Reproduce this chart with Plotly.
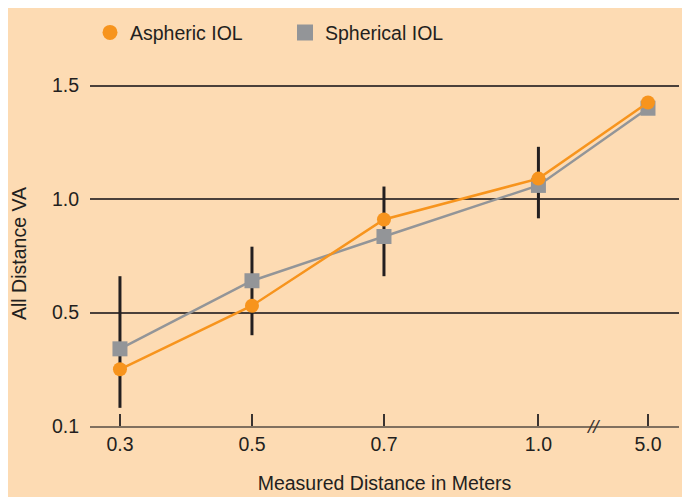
import plotly.graph_objects as go

# Data
distance_labels = ["0.3", "0.5", "0.7", "1.0", "5.0"]
distance_slots = [0, 1, 2, 3.17, 4]          # axis slot for each distance (axis broken before 5.0)
aspheric_va = [0.25, 0.53, 0.91, 1.09, 1.425]
spherical_va = [0.34, 0.64, 0.835, 1.06, 1.40]
err_low = [0.08, 0.40, 0.66, 0.915, None]
err_high = [0.66, 0.79, 1.055, 1.23, None]
y_tickvals = [0, 0.5, 1.0, 1.5]
y_ticktext = ["0.1", "0.5", "1.0", "1.5"]

ORANGE = "#F7941D"
GREY = "#939598"
PEACH = "#FDDBB3"
FONT = "Liberation Sans, Arial, sans-serif"
TXT = "#231F20"
FS = 19.5

fig = go.Figure()

# error bars (range lines)
ex, ey = [], []
for s, lo, hi in zip(distance_slots, err_low, err_high):
    if lo is None:
        continue
    ex += [s, s, None]
    ey += [lo, hi, None]
fig.add_trace(go.Scatter(x=ex, y=ey, mode="lines", line=dict(color=TXT, width=3),
                         showlegend=False, hoverinfo="skip"))

fig.add_trace(go.Scatter(x=distance_slots, y=spherical_va, mode="lines+markers",
                         name="Spherical IOL", showlegend=False,
                         line=dict(color=GREY, width=2.5),
                         marker=dict(symbol="square", size=15, color=GREY)))
fig.add_trace(go.Scatter(x=distance_slots, y=aspheric_va, mode="lines+markers",
                         name="Aspheric IOL", showlegend=False,
                         line=dict(color=ORANGE, width=2.5),
                         marker=dict(symbol="circle", size=14, color=ORANGE)))

# legend entries (markers only)
fig.add_trace(go.Scatter(x=[None], y=[None], mode="markers", name="Aspheric IOL",
                         marker=dict(symbol="circle", size=15, color=ORANGE)))
fig.add_trace(go.Scatter(x=[None], y=[None], mode="markers", name="Spherical IOL",
                         marker=dict(symbol="square", size=16, color=GREY)))

# axis break mark
fig.add_annotation(x=(distance_slots[3] + distance_slots[4]) / 2, y=0, xref="x", yref="y",
                   text="<i>//</i>", showarrow=False, font=dict(size=19, color="#3a3330", family=FONT),
                   xanchor="center", yanchor="middle")

# background panel
fig.add_shape(type="rect", xref="paper", yref="paper", x0=-0.2, x1=1.05, y0=-0.3, y1=1.3,
              fillcolor=PEACH, line=dict(width=0), layer="below")

YTOP = 1.52
fig.update_layout(
    width=682, height=489,
    margin=dict(l=82, r=11, t=73, b=71, autoexpand=False),
    paper_bgcolor="white",
    plot_bgcolor="rgba(0,0,0,0)",
    font=dict(family=FONT, size=FS, color=TXT),
    showlegend=True,
    legend=dict(orientation="h", x=0.0, y=1.14, xanchor="left", yanchor="middle",
                bgcolor="rgba(0,0,0,0)", itemwidth=30,
                font=dict(size=FS, color=TXT), entrywidth=150),
    xaxis=dict(range=[-0.227, 4.235], tickvals=distance_slots, ticktext=distance_labels,
               showgrid=False, zeroline=False, showline=True, linecolor="#80705f", linewidth=2,
               ticks="inside", ticklen=12, tickwidth=1.5, tickcolor="#3a3330",
               title=dict(text="Measured Distance in Meters", standoff=22,
                          font=dict(size=FS, color=TXT)),
               tickfont=dict(size=FS, color=TXT)),
    yaxis=dict(range=[0, YTOP], tickvals=y_tickvals, ticktext=y_ticktext,
               showgrid=True, gridcolor="#4a403a", gridwidth=1.5, zeroline=False,
               showline=False, ticks="", ticklabelstandoff=10,
               title=dict(text="All Distance VA", standoff=22, font=dict(size=FS, color=TXT)),
               tickfont=dict(size=FS, color=TXT)),
)

fig.write_html("out.html")
